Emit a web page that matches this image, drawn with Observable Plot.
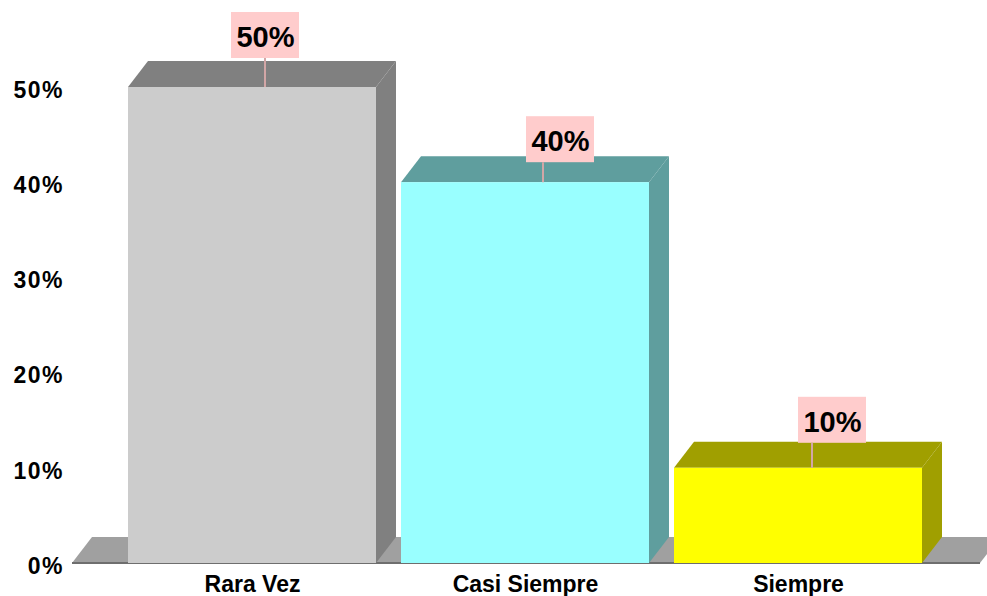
<!DOCTYPE html>
<html><head><meta charset="utf-8">
<script src="https://cdn.jsdelivr.net/npm/d3@7"></script>
<script src="https://cdn.jsdelivr.net/npm/@observablehq/plot@0.6"></script>
<style>
html,body{margin:0;padding:0;background:#fff;}
#chart svg{display:block;}
#chart g[aria-label="y-axis tick label"] text{letter-spacing:1.5px;}
</style></head><body><div id="chart"></div>
<script>
// ---- data ----
const categories = ["Rara Vez", "Casi Siempre", "Siempre"];
const percentages = [50, 40, 10];
const valueLabels = ["50%", "40%", "10%"];

// ---- styles ----
const frontColors = ["#cccccc", "#99ffff", "#ffff00"];
const sideColors = ["#808080", "#5f9e9e", "#a09f00"];
const DEPTH_X = 20, DEPTH_Y = -26;
// label box placement nudges (pixels, per bar)
const labelNudgeX = [13, 35, 34];
const leaderNudgeX = [13, 18, 14];
const labelGap = [29, 20, 25];
const BOX_W = 68, BOX_H = 46, TEXT_SHIFT = 2;
const FONT = "'Liberation Sans', Arial, Helvetica, sans-serif";

const rows = categories.map((c, i) => ({category: c, value: percentages[i], label: valueLabels[i], i}));

const NS = "http://www.w3.org/2000/svg";
function el(tag, attrs) {
  const e = document.createElementNS(NS, tag);
  for (const k in attrs) e.setAttribute(k, attrs[k]);
  return e;
}
function poly(pts, fill) {
  return el("polygon", {points: pts.map(p => p.join(",")).join(" "), fill});
}

// floor of the 3D chart, drawn from the x and y scales
function floorMark(index, scales) {
  const g = el("g", {});
  const [x0, x1r] = scales.x.range();
  const x1 = x1r + 3;
  const y0 = scales.y(0);
  g.appendChild(poly([[x0, y0], [x1, y0], [x1 + DEPTH_X, y0 + DEPTH_Y], [x0 + DEPTH_X, y0 + DEPTH_Y]], "#a0a0a0"));
  g.appendChild(el("line", {x1: x0, x2: x1, y1: y0, y2: y0, stroke: "#6e6e6e", "stroke-width": 2}));
  return g;
}

// side and top faces of each bar
function depthMark(index, scales) {
  const g = el("g", {});
  const x = scales.x, y = scales.y, bw = x.bandwidth();
  rows.forEach((d, i) => {
    const xl = x(d.category), xr = xl + bw, yt = y(d.value), yb = y(0);
    g.appendChild(poly([[xr, yb], [xr, yt], [xr + DEPTH_X, yt + DEPTH_Y], [xr + DEPTH_X, yb + DEPTH_Y]], sideColors[i]));
    g.appendChild(poly([[xl, yt], [xr, yt], [xr + DEPTH_X, yt + DEPTH_Y], [xl + DEPTH_X, yt + DEPTH_Y]], sideColors[i]));
  });
  return g;
}

// label boxes and leader lines
function labelBoxes(index, scales) {
  const g = el("g", {});
  const x = scales.x, y = scales.y, bw = x.bandwidth();
  rows.forEach((d, i) => {
    const cx = x(d.category) + bw / 2, yt = y(d.value);
    const boxBottom = yt - labelGap[i];
    g.appendChild(el("rect", {x: cx + labelNudgeX[i] - BOX_W / 2, y: boxBottom - BOX_H, width: BOX_W, height: BOX_H, fill: "#ffcccc"}));
    g.appendChild(el("line", {x1: cx + leaderNudgeX[i], x2: cx + leaderNudgeX[i], y1: yt, y2: boxBottom, stroke: "#d2a6a6", "stroke-width": 2}));
  });
  return g;
}

const hasAxisMarks = typeof Plot.axisY === "function";
const yTickFormat = d => d + "%";

const axisMarks = hasAxisMarks ? [
  Plot.axisY({ticks: 5, tickFormat: yTickFormat, tickSize: 0, tickPadding: 8.5, dy: 3, label: null, fontSize: 23, fontWeight: "bold"}),
  Plot.axisX({tickSize: 0, tickPadding: 12, label: null, fontSize: 23, fontWeight: "bold"})
] : [];

// one text mark per bar so each label can carry its own nudge
const valueTextMarks = rows.map((r, i) => Plot.text([r], {
  x: "category", y: "value", text: "label",
  dx: labelNudgeX[i], dy: -(labelGap[i] + BOX_H / 2) + TEXT_SHIFT,
  fontSize: 29, fontWeight: "bold", fill: "#000"
}));

const chart = Plot.plot({
  width: 987,
  height: 596,
  marginLeft: 72,
  marginRight: 10,
  marginTop: 87,
  marginBottom: 33,
  style: {fontFamily: FONT, fontSize: "23px", fontWeight: "bold", color: "#000", background: "#fff", overflow: "visible"},
  x: hasAxisMarks
    ? {domain: categories, paddingInner: 0.0934, paddingOuter: 0.2}
    : {domain: categories, paddingInner: 0.0934, paddingOuter: 0.2, label: null, tickSize: 0, tickPadding: 12},
  y: hasAxisMarks
    ? {domain: [0, 50]}
    : {domain: [0, 50], ticks: 5, tickFormat: yTickFormat, label: null, tickSize: 0, tickPadding: 10},
  color: {domain: categories, range: frontColors},
  marks: [
    ...axisMarks,
    floorMark,
    depthMark,
    Plot.barY(rows, {x: "category", y: "value", fill: "category"}),
    labelBoxes,
    ...valueTextMarks
  ]
});
document.getElementById("chart").appendChild(chart);
</script>
</body></html>
